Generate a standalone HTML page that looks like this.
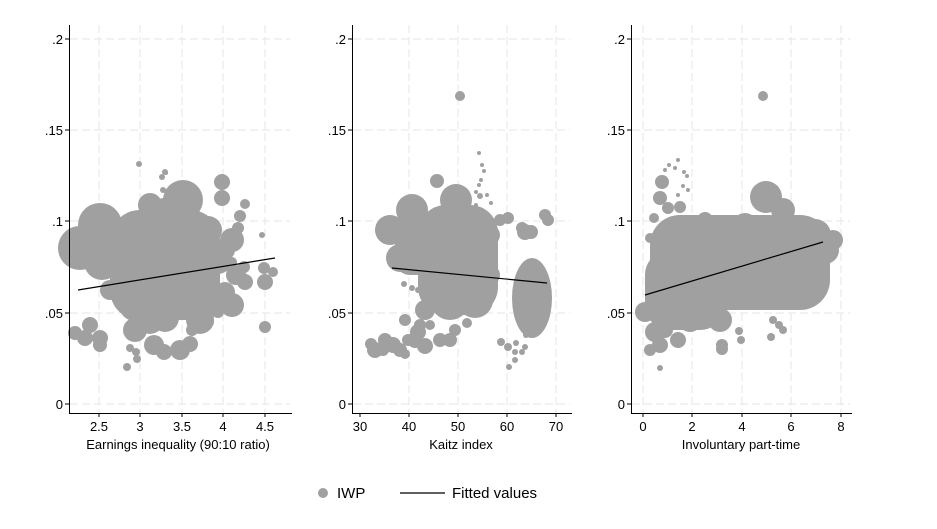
<!DOCTYPE html>
<html><head><meta charset="utf-8"><style>
body{margin:0;background:#fff;width:937px;height:524px;overflow:hidden}
svg{font-family:"Liberation Sans",Arial,sans-serif}
</style></head><body>
<svg width="937" height="524" xmlns="http://www.w3.org/2000/svg">
<rect width="937" height="524" fill="#fff"/>
<g stroke="#e6e6e6" stroke-dasharray="8,4" stroke-width="1">
<line x1="70" x2="290" y1="39" y2="39"/><line x1="70" x2="290" y1="130" y2="130"/><line x1="70" x2="290" y1="221" y2="221"/><line x1="70" x2="290" y1="313" y2="313"/><line x1="70" x2="290" y1="404" y2="404"/>
<line x1="99" x2="99" y1="25" y2="412"/><line x1="140" x2="140" y1="25" y2="412"/><line x1="182" x2="182" y1="25" y2="412"/><line x1="223" x2="223" y1="25" y2="412"/><line x1="265" x2="265" y1="25" y2="412"/>
<line x1="353" x2="570" y1="39" y2="39"/><line x1="353" x2="570" y1="130" y2="130"/><line x1="353" x2="570" y1="221" y2="221"/><line x1="353" x2="570" y1="313" y2="313"/><line x1="353" x2="570" y1="404" y2="404"/>
<line x1="409" x2="409" y1="25" y2="412"/><line x1="458" x2="458" y1="25" y2="412"/><line x1="507" x2="507" y1="25" y2="412"/><line x1="556" x2="556" y1="25" y2="412"/>
<line x1="632" x2="850" y1="39" y2="39"/><line x1="632" x2="850" y1="130" y2="130"/><line x1="632" x2="850" y1="221" y2="221"/><line x1="632" x2="850" y1="313" y2="313"/><line x1="632" x2="850" y1="404" y2="404"/>
<line x1="643" x2="643" y1="25" y2="412"/><line x1="692" x2="692" y1="25" y2="412"/><line x1="742" x2="742" y1="25" y2="412"/><line x1="791" x2="791" y1="25" y2="412"/><line x1="841" x2="841" y1="25" y2="412"/>
</g>
<g fill="#a0a0a0">
<!-- panel 1 -->
<circle cx="80" cy="248" r="22"/><circle cx="100" cy="225" r="22"/><circle cx="102" cy="262" r="18"/><circle cx="115" cy="250" r="14"/>
<rect x="110" y="210" width="110" height="110" rx="30"/>
<circle cx="165" cy="218" r="20"/><circle cx="150" cy="245" r="18"/><circle cx="145" cy="275" r="22"/><circle cx="135" cy="305" r="16"/><circle cx="135" cy="330" r="12"/>
<circle cx="175" cy="250" r="22"/><circle cx="170" cy="290" r="24"/><circle cx="200" cy="300" r="22"/><circle cx="195" cy="260" r="22"/><circle cx="190" cy="225" r="16"/>
<circle cx="183" cy="200" r="20"/><circle cx="208" cy="230" r="14"/><circle cx="218" cy="260" r="14"/><circle cx="225" cy="292" r="10"/><circle cx="225" cy="250" r="10"/>
<circle cx="200" cy="320" r="14"/><circle cx="165" cy="318" r="14"/><circle cx="150" cy="320" r="14"/><circle cx="110" cy="290" r="10"/>
<circle cx="160" cy="240" r="14"/><circle cx="170" cy="210" r="14"/><circle cx="150" cy="205" r="12"/><circle cx="125" cy="300" r="12"/><circle cx="232" cy="240" r="12"/><circle cx="236" cy="275" r="10"/><circle cx="232" cy="305" r="12"/>
<circle cx="222" cy="182" r="8"/><circle cx="222" cy="198" r="8"/><circle cx="240" cy="216" r="6"/><circle cx="238" cy="228" r="6"/><circle cx="232" cy="262" r="5"/><circle cx="244" cy="267" r="6"/><circle cx="242" cy="277" r="5"/>
<circle cx="245" cy="282" r="8"/><circle cx="264" cy="268" r="6"/><circle cx="265" cy="282" r="8"/><circle cx="273" cy="272" r="5"/><circle cx="262" cy="235" r="3"/><circle cx="265" cy="327" r="6"/>
<circle cx="245" cy="204" r="5"/><circle cx="230" cy="249" r="3"/><circle cx="218" cy="312" r="6"/><circle cx="208" cy="322" r="6"/>
<circle cx="90" cy="325" r="8"/><circle cx="75" cy="333" r="7"/><circle cx="85" cy="338" r="8"/><circle cx="100" cy="338" r="8"/><circle cx="100" cy="345" r="7"/>
<circle cx="154" cy="345" r="10"/><circle cx="164" cy="352" r="8"/><circle cx="180" cy="350" r="10"/><circle cx="190" cy="344" r="8"/><circle cx="192" cy="330" r="6"/>
<circle cx="130" cy="348" r="4"/><circle cx="136" cy="352" r="4"/><circle cx="137" cy="359" r="4"/><circle cx="127" cy="367" r="4"/>
<circle cx="139" cy="164" r="3"/><circle cx="162" cy="177" r="3"/><circle cx="165" cy="172" r="3"/><circle cx="163" cy="190" r="3"/><circle cx="166" cy="173" r="2"/>
<!-- panel 2 -->
<circle cx="390" cy="230" r="15"/><circle cx="412" cy="210" r="16"/><circle cx="400" cy="258" r="14"/><circle cx="415" cy="240" r="10"/>
<rect x="418" y="205" width="80" height="110" rx="28"/><rect x="395" y="215" width="40" height="60" rx="15"/>
<circle cx="456" cy="200" r="16"/><circle cx="450" cy="230" r="20"/><circle cx="475" cy="230" r="18"/><circle cx="440" cy="262" r="16"/><circle cx="470" cy="262" r="16"/>
<circle cx="450" cy="300" r="20"/><circle cx="475" cy="300" r="18"/><circle cx="430" cy="290" r="10"/><circle cx="490" cy="235" r="10"/><circle cx="500" cy="220" r="6"/>
<ellipse cx="532" cy="298" rx="20" ry="40"/><circle cx="508" cy="218" r="6"/><circle cx="522" cy="228" r="6"/><circle cx="525" cy="232" r="8"/><circle cx="531" cy="232" r="7"/><circle cx="545" cy="215" r="6"/><circle cx="548" cy="220" r="6"/>
<circle cx="437" cy="181" r="7"/><circle cx="478" cy="295" r="14"/><circle cx="425" cy="310" r="10"/><circle cx="490" cy="275" r="10"/>
<circle cx="405" cy="320" r="6"/><circle cx="420" cy="325" r="6"/><circle cx="415" cy="340" r="8"/><circle cx="425" cy="346" r="8"/><circle cx="440" cy="340" r="7"/><circle cx="450" cy="340" r="7"/><circle cx="455" cy="330" r="6"/>
<circle cx="393" cy="345" r="8"/><circle cx="400" cy="350" r="7"/><circle cx="383" cy="350" r="6"/><circle cx="430" cy="325" r="5"/><circle cx="467" cy="323" r="5"/><circle cx="418" cy="332" r="8"/><circle cx="408" cy="340" r="6"/>
<circle cx="375" cy="350" r="8"/><circle cx="385" cy="340" r="7"/><circle cx="405" cy="354" r="5"/><circle cx="371" cy="344" r="6"/>
<circle cx="501" cy="342" r="4"/><circle cx="508" cy="347" r="4"/><circle cx="515" cy="352" r="3"/><circle cx="522" cy="352" r="3"/><circle cx="515" cy="360" r="3"/><circle cx="509" cy="367" r="3"/><circle cx="525" cy="347" r="3"/><circle cx="516" cy="343" r="3"/><circle cx="526" cy="335" r="3"/>
<circle cx="404" cy="284" r="3"/><circle cx="412" cy="288" r="3"/><circle cx="418" cy="290" r="3"/>
<circle cx="460" cy="96" r="5"/><circle cx="479" cy="153" r="2"/><circle cx="482" cy="165" r="2"/><circle cx="484" cy="171" r="2"/><circle cx="481" cy="180" r="2"/><circle cx="476" cy="192" r="2"/><circle cx="480" cy="196" r="3"/><circle cx="487" cy="195" r="2"/><circle cx="476" cy="205" r="2"/><circle cx="491" cy="203" r="2"/><circle cx="479" cy="185" r="2"/>
<!-- panel 3 -->
<rect x="650" y="215" width="180" height="95" rx="30"/><rect x="645" y="250" width="80" height="80" rx="25"/>
<circle cx="663" cy="181" r="5"/><circle cx="660" cy="198" r="7"/><circle cx="668" cy="208" r="6"/><circle cx="654" cy="218" r="5"/><circle cx="650" cy="238" r="5"/><circle cx="680" cy="207" r="6"/>
<circle cx="690" cy="230" r="14"/><circle cx="670" cy="250" r="16"/><circle cx="660" cy="280" r="14"/><circle cx="665" cy="310" r="16"/><circle cx="690" cy="270" r="22"/>
<circle cx="720" cy="240" r="20"/><circle cx="740" cy="260" r="22"/><circle cx="715" cy="290" r="22"/><circle cx="745" cy="290" r="18"/><circle cx="700" cy="300" r="18"/>
<circle cx="772" cy="236" r="16"/><circle cx="766" cy="197" r="16"/><circle cx="783" cy="210" r="12"/><circle cx="770" cy="270" r="16"/><circle cx="770" cy="290" r="14"/>
<circle cx="815" cy="235" r="16"/><circle cx="800" cy="258" r="14"/><circle cx="825" cy="250" r="14"/><circle cx="833" cy="240" r="10"/>
<circle cx="745" cy="225" r="12"/><circle cx="705" cy="220" r="8"/><circle cx="720" cy="320" r="12"/><circle cx="690" cy="320" r="12"/>
<circle cx="655" cy="332" r="10"/><circle cx="660" cy="345" r="8"/><circle cx="665" cy="330" r="8"/><circle cx="678" cy="340" r="8"/><circle cx="650" cy="350" r="6"/>
<circle cx="722" cy="345" r="6"/><circle cx="722" cy="349" r="6"/><circle cx="739" cy="331" r="4"/><circle cx="741" cy="340" r="4"/>
<circle cx="773" cy="320" r="4"/><circle cx="779" cy="325" r="4"/><circle cx="771" cy="337" r="4"/><circle cx="783" cy="330" r="4"/><circle cx="660" cy="368" r="3"/>
<circle cx="662" cy="182" r="7"/><circle cx="675" cy="168" r="2"/><circle cx="678" cy="160" r="2"/><circle cx="684" cy="172" r="2"/><circle cx="687" cy="176" r="2"/><circle cx="683" cy="186" r="2"/><circle cx="678" cy="195" r="2"/><circle cx="688" cy="190" r="2"/><circle cx="665" cy="170" r="2"/><circle cx="669" cy="165" r="2"/>
<circle cx="763" cy="96" r="5"/><circle cx="645" cy="312" r="10"/>
<!-- legend -->
<circle cx="323" cy="493" r="5"/>
</g>
<g stroke="#000" stroke-width="1.2" fill="none">
<line x1="78" y1="290" x2="275" y2="258"/>
<line x1="392" y1="268" x2="547" y2="283"/>
<line x1="645" y1="295" x2="823" y2="242"/>
<line x1="400" y1="493" x2="445" y2="493"/>
</g>
<g stroke="#000" stroke-width="1">
<line x1="69.5" y1="25" x2="69.5" y2="413"/><line x1="69" y1="413.5" x2="292" y2="413.5"/>
<line x1="352.5" y1="25" x2="352.5" y2="413"/><line x1="352" y1="413.5" x2="572" y2="413.5"/>
<line x1="631.5" y1="25" x2="631.5" y2="413"/><line x1="631" y1="413.5" x2="852" y2="413.5"/>
<path d="M65 39H69M65 130H69M65 221H69M65 313H69M65 404H69M99 413V417M140 413V417M182 413V417M223 413V417M265 413V417
M348 39H352M348 130H352M348 221H352M348 313H352M348 404H352M360 413V417M409 413V417M458 413V417M507 413V417M556 413V417
M627 39H631M627 130H631M627 221H631M627 313H631M627 404H631M643 413V417M692 413V417M742 413V417M791 413V417M841 413V417"/>
</g>
<g font-size="13" fill="#000" text-anchor="end">
<text x="63" y="44">.2</text><text x="63" y="135">.15</text><text x="63" y="226">.1</text><text x="63" y="318">.05</text><text x="63" y="409">0</text>
<text x="346" y="44">.2</text><text x="346" y="135">.15</text><text x="346" y="226">.1</text><text x="346" y="318">.05</text><text x="346" y="409">0</text>
<text x="625" y="44">.2</text><text x="625" y="135">.15</text><text x="625" y="226">.1</text><text x="625" y="318">.05</text><text x="625" y="409">0</text>
</g>
<g font-size="13" fill="#000" text-anchor="middle">
<text x="99" y="431">2.5</text><text x="140" y="431">3</text><text x="182" y="431">3.5</text><text x="223" y="431">4</text><text x="265" y="431">4.5</text>
<text x="360" y="431">30</text><text x="409" y="431">40</text><text x="458" y="431">50</text><text x="507" y="431">60</text><text x="556" y="431">70</text>
<text x="643" y="431">0</text><text x="692" y="431">2</text><text x="742" y="431">4</text><text x="791" y="431">6</text><text x="841" y="431">8</text>
<text x="178" y="449">Earnings inequality (90:10 ratio)</text>
<text x="461" y="449">Kaitz index</text>
<text x="741" y="449">Involuntary part-time</text>
</g>
<g font-size="15" fill="#000">
<text x="337" y="498">IWP</text><text x="452" y="498">Fitted values</text>
</g>
</svg>
</body></html>
